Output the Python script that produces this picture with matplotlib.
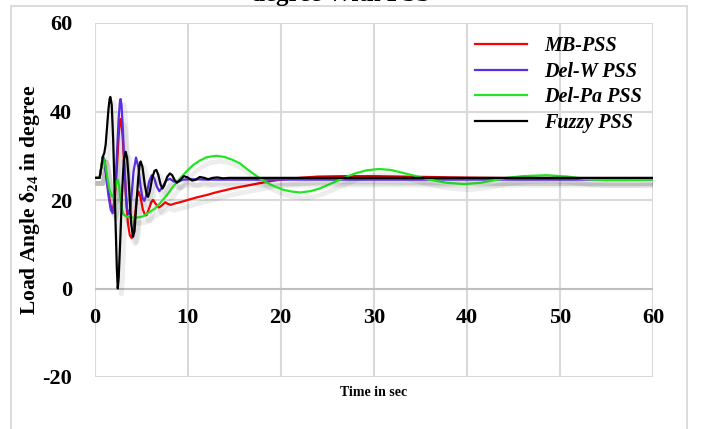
import matplotlib
matplotlib.use("Agg")
import matplotlib.pyplot as plt
import matplotlib.patheffects as pe
from matplotlib.patches import Rectangle

# ---------------- data ----------------
mb_t = [0, 0.55, 0.75, 0.9, 1.05, 1.25, 1.5, 1.75, 1.95, 2.15, 2.3, 2.45, 2.6, 2.72, 2.8, 2.9,
        3.05, 3.2, 3.4, 3.6, 3.8, 4.0, 4.15, 4.35, 4.55, 4.74, 4.95, 5.2, 5.45, 5.6, 5.85, 6.1,
        6.3, 6.55, 6.9, 7.2, 7.6, 7.9, 8.2, 8.6, 9.2, 10, 11, 12, 13, 14, 15, 16, 17, 18, 19,
        20, 22, 24, 27, 30, 33, 36, 40, 45, 60]
mb_y = [25, 25, 27.6, 29.8, 29.2, 26, 21.8, 18.5, 17.6, 19.8, 23.5, 29, 34.5, 37.5, 38.3, 37.5,
        33.5, 27.5, 20, 14.5, 12, 11.4, 12.5, 16.5, 20.5, 21.9, 20.6, 17.8, 16.5, 16.6, 18, 19.5,
        20, 19.2, 18.3, 18.7, 19.5, 19.1, 18.9, 19.2, 19.5, 20, 20.6, 21.1, 21.7, 22.2, 22.7,
        23.1, 23.5, 23.9, 24.3, 24.6, 25.0, 25.3, 25.4, 25.4, 25.3, 25.2, 25.05, 24.95, 24.95]

delw_t = [0, 0.55, 0.75, 0.9, 1.05, 1.25, 1.5, 1.75, 1.95, 2.15, 2.3, 2.45, 2.6, 2.72, 2.8, 2.9,
          3.05, 3.2, 3.35, 3.5, 3.7, 3.85, 4.0, 4.2, 4.46, 4.7, 4.95, 5.15, 5.35, 5.6, 5.85,
          6.14, 6.4, 6.7, 6.96, 7.3, 7.7, 8.1, 8.5, 9.0, 9.5, 10.5, 12, 60]
delw_y = [25, 25, 27.6, 29.8, 29, 25.5, 21, 17.8, 17, 20, 25.5, 32, 38.5, 42, 42.8, 41.5,
          36, 28.5, 22, 18, 16.8, 18, 21.5, 26.5, 29.6, 27.5, 23, 20.5, 19.8, 21.2, 24,
          25.6, 25, 23, 22, 22.9, 24.4, 24.8, 24.2, 24.1, 24.6, 24.7, 24.6, 24.6]

delpa_t = [0, 0.55, 0.75, 0.9, 1.1, 1.35, 1.6, 1.85, 2.0, 2.2, 2.4, 2.52, 2.65, 2.8, 2.95, 3.1,
           3.4, 3.8, 4.3, 4.8, 5.2, 5.8, 6.5, 7.05, 7.9, 8.5, 9.2, 9.9, 10.6, 11.3, 12.1, 13.1,
           14.0, 14.8, 15.6, 16.5, 17.3, 18.1, 19.2, 20.3, 21.2, 22.1, 23.2, 24.2, 25.5, 26.8,
           28.0, 29.2, 30.5, 31.8, 33.2, 34.7, 36.2, 37.8, 39.7, 41.5, 43, 44.3, 46, 48.6,
           50.8, 52.9, 55, 57, 60]
delpa_y = [25, 25, 27.6, 29.8, 28.5, 25.5, 22.5, 20.8, 20.7, 22.5, 24.3, 24.5, 23, 20, 17.8, 16.8,
           16.3, 16.1, 16.0, 16.1, 16.3, 17.1, 18.1, 19.3, 21.4, 23.2, 24.9, 26.5, 27.9, 28.9,
           29.7, 30.0, 29.7, 29.1, 28.3, 26.8, 25.6, 24.4, 23.2, 22.3, 21.9, 21.7, 22.0, 22.6,
           23.8, 25.0, 26.0, 26.7, 27.0, 26.8, 26.1, 25.3, 24.5, 23.9, 23.6, 23.9, 24.5, 25.0,
           25.4, 25.6, 25.3, 24.7, 24.5, 24.5, 24.6]

fuzzy_t = [0, 0.55, 0.75, 0.9, 1.05, 1.2, 1.35, 1.5, 1.62, 1.7, 1.85, 2.0, 2.15, 2.3, 2.4, 2.5,
           2.6, 2.75, 2.95, 3.15, 3.35, 3.5, 3.65, 3.8, 3.95, 4.14, 4.3, 4.5, 4.7, 4.85, 4.96,
           5.15, 5.4, 5.6, 5.75, 5.95, 6.2, 6.45, 6.64, 6.85, 7.1, 7.3, 7.5, 7.8, 8.1, 8.35,
           8.6, 8.85, 9.2, 9.6, 10.0, 10.5, 10.9, 11.3, 11.8, 12.2, 12.7, 13.2, 13.8, 14.5, 60]
fuzzy_y = [25, 25, 27.6, 29.8, 30.6, 32.5, 36.5, 40.5, 42.8, 43.3, 41.5, 34, 23, 12, 4.5, 0,
           2.5, 10, 21, 29, 30.9, 29.5, 25.5, 19.5, 14.5, 11.7, 13, 19, 25, 28, 28.7,
           27.5, 23.5, 21.2, 20.7, 22, 25, 26.6, 26.8, 25.7, 23.5, 22.6, 23.3, 25.2, 26, 25.6,
           24.5, 23.9, 24.5, 25.4, 25.1, 24.4, 24.6, 25.2, 25.0, 24.7, 25.0, 25.1, 24.9, 25.0, 25]

series = [("MB-PSS", mb_t, mb_y, "#ff0000"),
          ("Del-W PSS", delw_t, delw_y, "#5b2ee6"),
          ("Del-Pa PSS", delpa_t, delpa_y, "#22e622"),
          ("Fuzzy PSS", fuzzy_t, fuzzy_y, "#000000")]

x_ticks = [0, 10, 20, 30, 40, 50, 60]
y_ticks = [-20, 0, 20, 40, 60]

# ---------------- figure ----------------
plt.rcParams['axes.unicode_minus'] = False
plt.rcParams['mathtext.fontset'] = 'custom'
plt.rcParams['mathtext.rm'] = 'Liberation Serif:bold'
plt.rcParams['mathtext.bf'] = 'Liberation Serif:bold'
plt.rcParams['mathtext.it'] = 'Liberation Serif:bold'
plt.rcParams['mathtext.default'] = 'bf'

W, H = 704, 429
fig = plt.figure(figsize=(W / 100, H / 100), dpi=100)
fig.patch.set_facecolor("white")

# outer light border
fig.patches.append(Rectangle((11 / W, -0.05), (687 - 11) / W, 1 - 6 / H + 0.05,
                             transform=fig.transFigure, fill=False,
                             edgecolor="#d9d9d9", linewidth=1.3))

ax = fig.add_axes([94.5 / W, 1 - 377 / H, (653 - 94.5) / W, (377 - 23) / H])
ax.set_xlim(0, 60)
ax.set_ylim(-20, 60)

grid_c = "#d9d9d9"
for t in x_ticks:
    ax.axvline(t, color=grid_c, lw=1.5, zorder=0)
for v in y_ticks:
    ax.axhline(v, color=("#bfbfbf" if v == 0 else grid_c), lw=1.5, zorder=0)

for sp in ax.spines.values():
    sp.set_visible(False)
ax.spines['bottom'].set_position(('data', 0))

ax.set_xticks(x_ticks)
ax.set_yticks(y_ticks)
ax.tick_params(axis='both', length=0)
ax.tick_params(axis='x', pad=14)
ax.tick_params(axis='y', pad=16)
for lab in ax.get_xticklabels() + ax.get_yticklabels():
    lab.set_fontfamily("Liberation Serif")
    lab.set_fontweight("bold")
    lab.set_fontsize(16)

shadow = [pe.SimpleLineShadow(offset=(2.5, -4), shadow_color="black", alpha=0.07, linewidth=3.5),
          pe.Normal()]
for name, t, y, c in series:
    ax.plot(t, y, color=c, lw=1.6, label=name, path_effects=shadow, zorder=3)

leg = ax.legend(loc="upper left", bbox_to_anchor=((475 - 94.5) / (653 - 94.5), 1 - (36 - 23) / 354),
                frameon=False, borderaxespad=0, borderpad=0, handlelength=2.6,
                handletextpad=0.85, labelspacing=0.28,
                prop={"family": "Liberation Serif", "style": "italic", "weight": "bold", "size": 14.5})
for line in leg.get_lines():
    line.set_path_effects([pe.Normal()])
    line.set_linewidth(1.6)

fig.text(374 / W, 1 - 393 / H, "Time in sec", ha="center", va="center",
         family="Liberation Serif", weight="bold", fontsize=10)
fig.text(30 / W, 1 - 200 / H, r"Load Angle δ$_{24}$ in degree", rotation=90,
         ha="center", va="center", family="Liberation Serif", weight="bold", fontsize=15.5)
fig.text(341 / W, 1 - 0.5 / H, "degree With PSS", ha="center", va="baseline",
         family="Liberation Serif", weight="bold", fontsize=18)

fig.savefig("out.png", dpi=100)
